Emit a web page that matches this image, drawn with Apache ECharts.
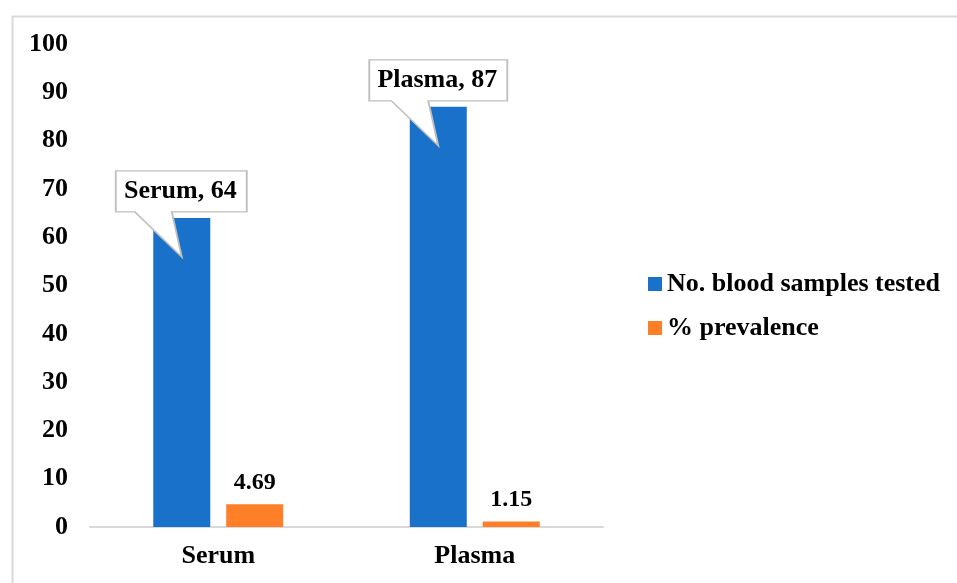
<!DOCTYPE html>
<html>
<head>
<meta charset="utf-8">
<script src="https://cdn.jsdelivr.net/npm/echarts@6/dist/echarts.min.js"></script>
<style>
  html, body { margin: 0; padding: 0; background: #fff; }
  #chart { width: 957px; height: 583px; }
</style>
</head>
<body>
<div id="chart"></div>
<script>
// Sample types and their values
const categories = ['Serum', 'Plasma'];
const seriesNames = ['No. blood samples tested', '% prevalence'];
const samplesTested = [64, 87];
const prevalence = [4.69, 1.15];
const yTicks = [0, 10, 20, 30, 40, 50, 60, 70, 80, 90, 100];

const FONT = '"Liberation Serif", "Times New Roman", serif';
const BLUE = '#1971c9';
const ORANGE = '#fd7f27';

// Measure callout text so each speech-bubble fits its label
const ctx = document.createElement('canvas').getContext('2d');
ctx.font = 'bold 26px ' + FONT;

function callout(cat, val) {
  const text = cat + ', ' + val;
  const w = Math.round(ctx.measureText(text).width + 18);
  const boxH = 41, h = 86;
  const t = Math.round(w / 2);
  const path = 'path://M0,0 H' + w + ' V' + boxH + ' H' + (t - 10) +
    ' L' + t + ',' + h + ' L' + (t - 47) + ',' + boxH + ' H0 Z';
  return {
    name: cat,
    coord: [cat, val],
    value: val,
    symbol: path,
    symbolSize: [w, h],
    symbolKeepAspect: false,
    symbolOffset: [w / 2 - t, -h / 2 + 39],
    label: {
      show: true,
      position: [w / 2, boxH / 2 + 1],
      align: 'center',
      verticalAlign: 'middle',
      formatter: text,
      fontFamily: FONT,
      fontWeight: 'bold',
      fontSize: 26,
      color: '#000'
    }
  };
}

const chart = echarts.init(document.getElementById('chart'), null, { renderer: 'canvas' });

chart.setOption({
  backgroundColor: '#fff',
  animation: false,
  graphic: [{
    type: 'rect',
    left: 10, top: 14,
    shape: { width: 1000, height: 1000 },
    style: { fill: 'none', stroke: '#d9d9d9', lineWidth: 2 },
    silent: true,
    z: -10
  }],
  grid: { left: 90, right: 354, top: 44, bottom: 56 },
  legend: {
    orient: 'vertical',
    left: 643,
    top: 266,
    itemWidth: 14,
    itemHeight: 14,
    itemGap: 18,
    icon: 'rect',
    textStyle: { fontFamily: FONT, fontWeight: 'bold', fontSize: 26, color: '#000' },
    data: seriesNames
  },
  xAxis: {
    type: 'category',
    data: categories,
    axisLine: { lineStyle: { color: '#d9d9d9', width: 2 } },
    axisTick: { show: false },
    axisLabel: { fontFamily: FONT, fontWeight: 'bold', fontSize: 26, color: '#000', margin: 16 }
  },
  yAxis: {
    type: 'value',
    min: yTicks[0],
    max: yTicks[yTicks.length - 1],
    interval: yTicks[1] - yTicks[0],
    axisLine: { show: false },
    axisTick: { show: false },
    splitLine: { show: false },
    axisLabel: { fontFamily: FONT, fontWeight: 'bold', fontSize: 26, color: '#000', margin: 22 }
  },
  series: [
    {
      name: seriesNames[0],
      type: 'bar',
      data: samplesTested,
      barWidth: 57,
      barGap: '28%',
      itemStyle: { color: BLUE },
      markPoint: {
        itemStyle: { color: '#fff', borderColor: '#bfbfbf', borderWidth: 1.5 },
        data: categories.map((c, i) => callout(c, samplesTested[i]))
      }
    },
    {
      name: seriesNames[1],
      type: 'bar',
      data: prevalence,
      barWidth: 57,
      itemStyle: { color: ORANGE },
      label: {
        show: true,
        position: 'top',
        distance: 10,
        fontFamily: FONT,
        fontWeight: 'bold',
        fontSize: 24,
        color: '#000'
      }
    }
  ]
});
</script>
</body>
</html>
